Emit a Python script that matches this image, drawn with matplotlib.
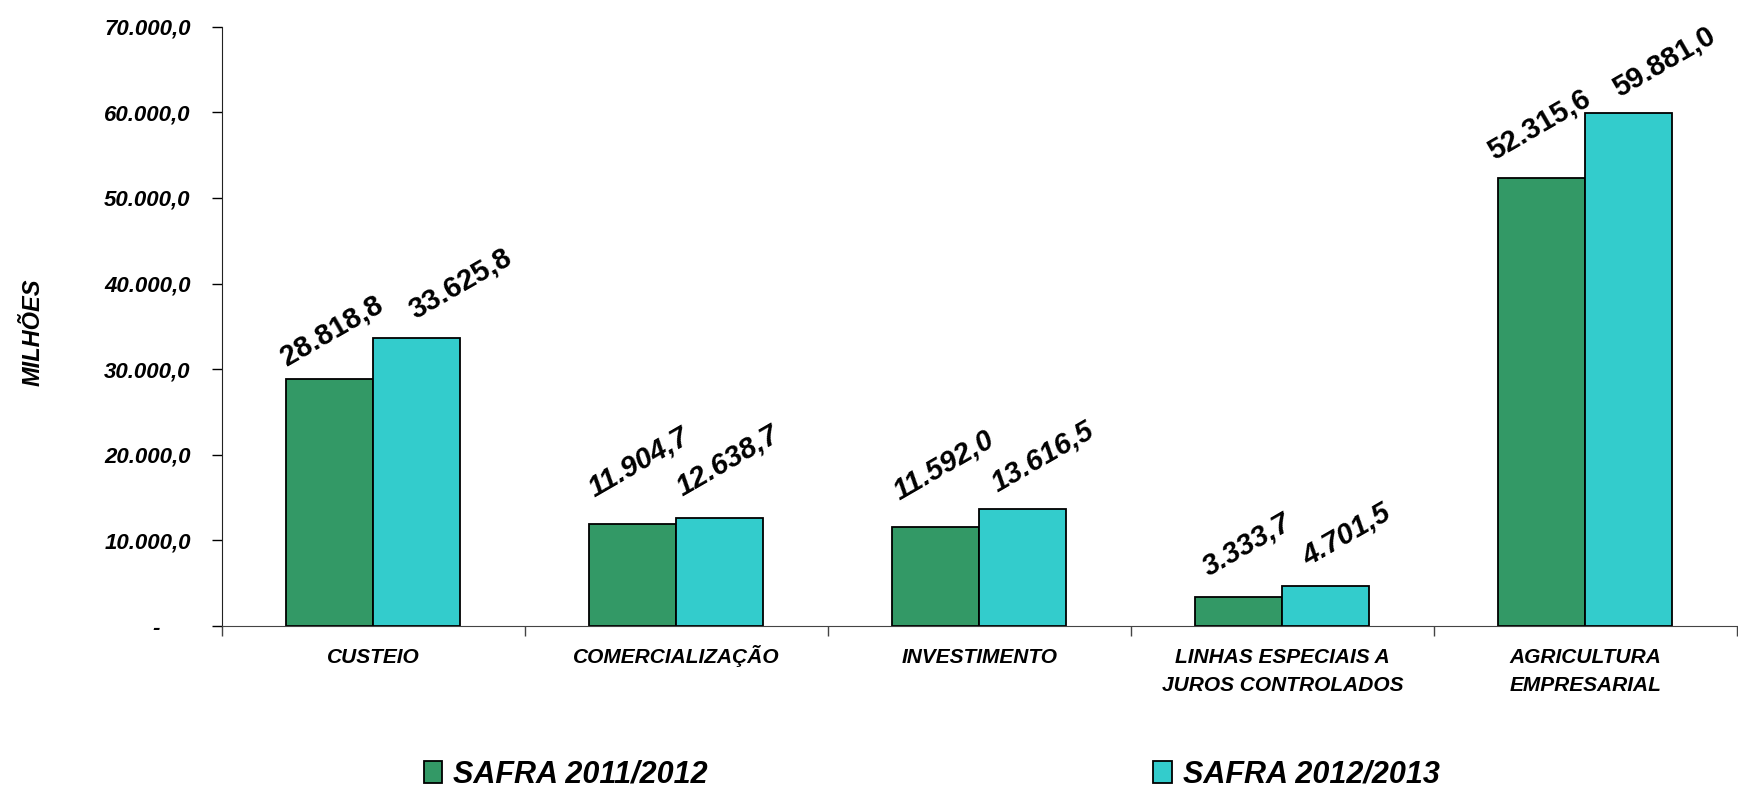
import numpy as np
import matplotlib
matplotlib.use("Agg")
import matplotlib.pyplot as plt

# dados (R$ milhões)
categorias = ["CUSTEIO", "COMERCIALIZAÇÃO", "INVESTIMENTO",
              "LINHAS ESPECIAIS A\nJUROS CONTROLADOS", "AGRICULTURA\nEMPRESARIAL"]
safra_2011 = [28818.8, 11904.7, 11592.0, 3333.7, 52315.6]
safra_2012 = [33625.8, 12638.7, 13616.5, 4701.5, 59881.0]
series_nomes = ["SAFRA 2011/2012", "SAFRA 2012/2013"]
y_ticks = [0, 10000, 20000, 30000, 40000, 50000, 60000, 70000]

plt.rcParams['font.family'] = ['Liberation Sans', 'DejaVu Sans']


def fmt_br(v):
    s = f"{v:,.1f}"
    return s.replace(",", "X").replace(".", ",").replace("X", ".")


fig = plt.figure(figsize=(17.38, 7.92), dpi=100)
ax = fig.add_axes([0.1277, 0.2096, 0.8717, 0.7567])

x = np.arange(len(categorias))
w = 0.287
cores = ["#339966", "#33CCCC"]
b1 = ax.bar(x - w / 2, safra_2011, w, color=cores[0], edgecolor="black", linewidth=1.3,
            label=series_nomes[0])
b2 = ax.bar(x + w / 2, safra_2012, w, color=cores[1], edgecolor="black", linewidth=1.3,
            label=series_nomes[1])

# rótulos de valor inclinados; deslocamentos (px) medidos a olho no original
italico = [False, True, True, True, False]
desloc = [
    [(2, 48), (6, 62), (8, 61), (8, 53), (-3, 53)],
    [(43, 54), (8, 57), (20, 53), (21, 51), (35, 51)],
]
for serie, barras in enumerate([b1, b2]):
    for i, r in enumerate(barras):
        ax.annotate(fmt_br(r.get_height()),
                    (r.get_x() + r.get_width() / 2, r.get_height()),
                    xytext=desloc[serie][i], textcoords="offset pixels",
                    ha="center", va="center", rotation=30, rotation_mode="anchor",
                    fontsize=21, fontweight="bold",
                    fontstyle="italic" if italico[i] else "normal")

ax.set_xlim(-0.5, len(categorias) - 0.5)
ax.set_ylim(0, 70000)
ax.set_yticks(y_ticks)
ax.set_yticklabels(["-     " if v == 0 else fmt_br(v) for v in y_ticks],
                   fontsize=16, fontweight="bold", fontstyle="italic")
ax.tick_params(axis="y", direction="out", length=7, width=1, pad=15.5)

# categorias: cada linha alinhada pela base do texto
ax.set_xticks(np.arange(-0.5, len(categorias)))
ax.set_xticklabels([])
ax.tick_params(axis="x", direction="out", length=7, width=1, color="#444444")
for i, cat in enumerate(categorias):
    for k, linha in enumerate(cat.split("\n")):
        ax.annotate(linha, (i, 0), xycoords=("data", "axes fraction"),
                    xytext=(0, -37 - 28 * k), textcoords="offset pixels",
                    ha="center", va="baseline", fontsize=15,
                    fontweight="bold", fontstyle="italic")

for s in ["top", "right"]:
    ax.spines[s].set_visible(False)
ax.spines["left"].set_color("#222222")
ax.spines["bottom"].set_color("#444444")

fig.text(33 / 1738, 1 - 332 / 792, "MILHÕES", rotation=90, ha="center", va="center",
         fontsize=17, fontweight="bold", fontstyle="italic")

fig.legend(handles=[b1, b2], labels=series_nomes, loc="center",
           bbox_to_anchor=(0.536, 0.022), ncol=2, frameon=False,
           prop={"size": 22, "weight": "bold", "style": "italic"},
           handlelength=0.6, handleheight=0.7, handletextpad=0.35, columnspacing=14.6)

fig.savefig("out.png", dpi=100)
